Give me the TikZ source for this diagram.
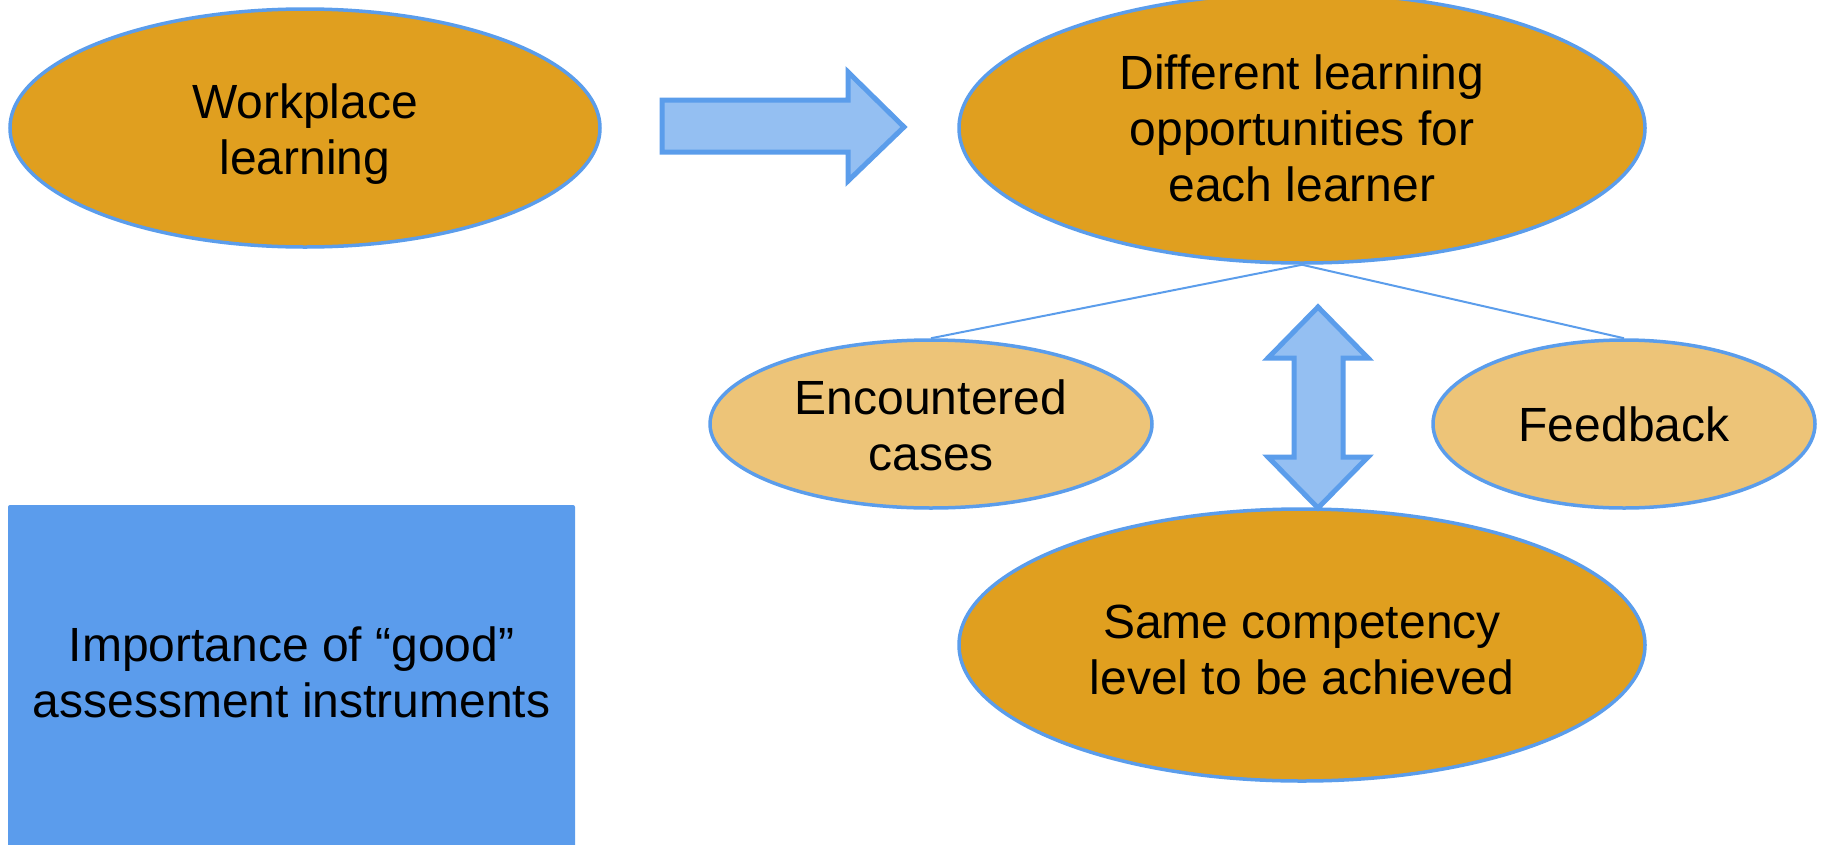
\documentclass[tikz,border=0pt]{standalone}
\usepackage{fontspec}
\setmainfont{Liberation Sans}
\usetikzlibrary{shapes.geometric}
\definecolor{dorange}{RGB}{224,159,31}
\definecolor{lorange}{RGB}{237,196,120}
\definecolor{bord}{RGB}{91,157,235}
\definecolor{afill}{RGB}{148,191,242}
\definecolor{rfill}{RGB}{91,156,236}
\tikzset{
  ell/.style={ellipse, draw=bord, line width=3.5pt, inner sep=0pt},
  big/.style={ell, fill=dorange},
  small/.style={ell, fill=lorange},
  txt/.style={align=center, font=\fontsize{48}{56}\selectfont, text=black, inner sep=0pt},
  blockarrow/.style={draw=bord, fill=afill, line width=5pt, line join=miter},
  link/.style={draw=bord, line width=2pt},
}
\begin{document}
\begin{tikzpicture}[x=1pt,y=-1pt]
\useasboundingbox (0,0) rectangle (1824,844);
\node[big, minimum width=590pt, minimum height=238pt] (work) at (305,128) {};
\node[big, minimum width=686pt, minimum height=270pt] (diff) at (1302,128) {};
\node[small, minimum width=442pt, minimum height=168pt] (enc) at (931,424) {};
\node[small, minimum width=382pt, minimum height=168pt] (feed) at (1624,424) {};
\node[big, minimum width=686pt, minimum height=272pt] (same) at (1302,645) {};
\node[fill=rfill, rounded corners=2pt, minimum width=567pt, minimum height=350pt, inner sep=0pt] (imp) at (291.5,680) {};
\node[txt] (workt) at ([yshift=-6pt]work.center) {Workplace\\learning};
\node[txt] (difft) at (diff.center) {Different learning\\opportunities for\\each learner};
\node[txt] (enct) at ([yshift=-1pt]enc.center) {Encountered\\cases};
\node[txt] (feedt) at (feed.center) {Feedback};
\node[txt] (samet) at ([yshift=-5pt]same.center) {Same competency\\level to be achieved};
\node[txt] (impt) at ([yshift=8pt]imp.center) {Importance of “good”\\assessment instruments};
\draw[link] (diff.south) -- (enc.north);
\draw[link] (diff.south) -- (feed.north);
% right block arrow
\draw[blockarrow] (662,100) -- (848,100) -- (848,72) -- (904,127) -- (848,181) -- (848,152) -- (662,152) -- cycle;
% double block arrow
\draw[blockarrow] (1318,307) -- (1368,358) -- (1343,358) -- (1343,457) -- (1368,457) -- (1318,508)
  -- (1268,457) -- (1294,457) -- (1294,358) -- (1268,358) -- cycle;
\end{tikzpicture}
\end{document}
